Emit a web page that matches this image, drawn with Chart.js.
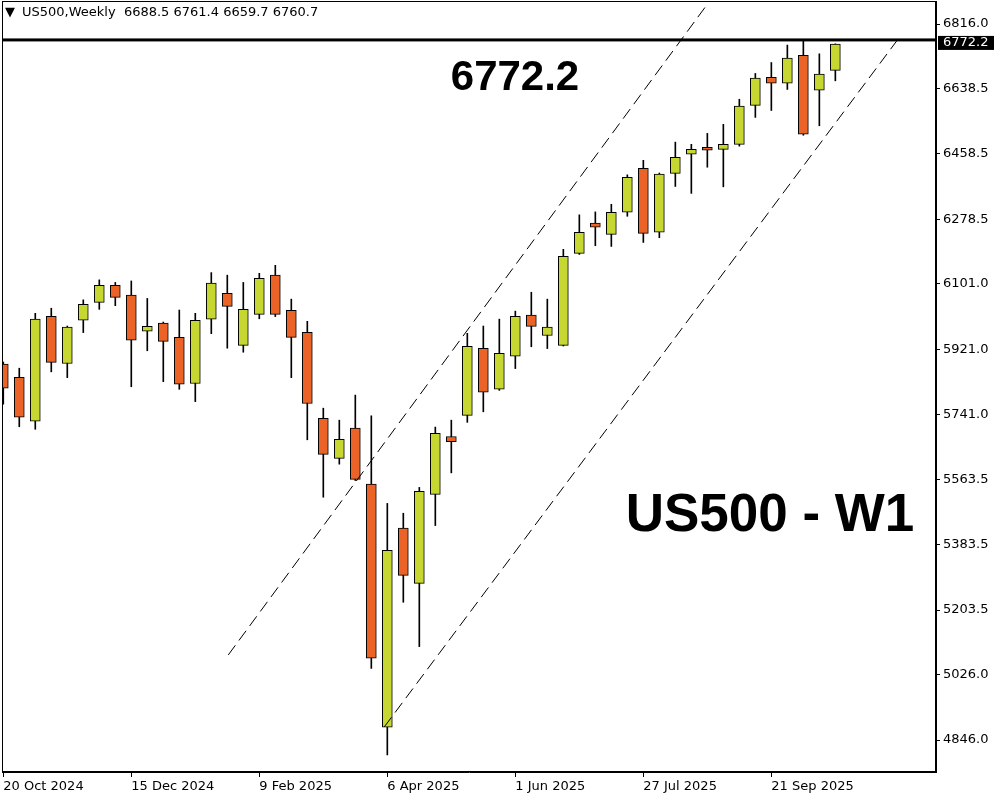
<!DOCTYPE html>
<html>
<head>
<meta charset="utf-8">
<title>US500 - W1</title>
<script src="https://cdn.jsdelivr.net/npm/chart.js@4.4.1/dist/chart.umd.min.js"></script>
<style>
    html, body { margin: 0; padding: 0; background: #fff; }
</style>
</head>
<body>
<canvas id="myChart" width="1000" height="800"></canvas>
<script>
// weekly candles, 20 Oct 2024 .. 19 Oct 2025
const opens = [5880, 5844, 5723, 6012, 5882, 6001, 6050, 6097, 6070, 5971,
    5993, 5954, 5827, 6004, 6075, 5932, 6017, 6125, 6028, 5968,
    5731, 5621, 5704, 5550, 4881, 5429, 5277, 5522, 5681, 5739,
    5924, 5811, 5902, 6015, 5959, 5932, 6185, 6268, 6237, 6298,
    6419, 6243, 6405, 6458, 6477, 6471, 6485, 6592, 6669, 6653,
    6730, 6634, 6688.5];
const highs = [5886, 5869, 6020, 6034, 5985, 6057, 6112, 6105, 6109, 6061,
    5996, 6029, 6020, 6132, 6125, 6105, 6130, 6152, 6059, 5998,
    5759, 5726, 5795, 5738, 5497, 5470, 5541, 5707, 5726, 5965,
    5985, 6004, 6026, 6078, 6059, 6196, 6291, 6299, 6320, 6401,
    6441, 6406, 6491, 6485, 6515, 6540, 6609, 6680, 6710, 6758,
    6770, 6734, 6761.4];
const lows = [5770, 5708, 5701, 5859, 5843, 5967, 6031, 6041, 5818, 5917,
    5832, 5811, 5777, 5964, 5924, 5913, 6005, 6011, 5843, 5672,
    5514, 5605, 5560, 5043, 4805, 5225, 5103, 5436, 5581, 5720,
    5749, 5808, 5868, 5928, 5923, 5930, 6182, 6206, 6204, 6287,
    6215, 6228, 6369, 6350, 6422, 6368, 6480, 6559, 6578, 6636,
    6510, 6536, 6659.7];
const closes = [5814, 5734, 6004, 5885, 5982, 6045, 6097, 6064, 5946, 5984,
    5943, 5825, 6001, 6103, 6039, 6031, 6116, 6017, 5954, 5772,
    5632, 5673, 5563, 5071, 5368, 5299, 5530, 5690, 5667, 5929,
    5803, 5910, 6012, 5984, 5982, 6177, 6243, 6257, 6298, 6394,
    6240, 6403, 6449, 6471, 6469, 6485, 6590, 6667, 6653, 6722,
    6513, 6678, 6760.7];

const tickIndex = [0, 8, 16, 24, 32, 40, 48];
const tickLabels = ["20 Oct 2024", "15 Dec 2024", "9 Feb 2025", "6 Apr 2025",
    "1 Jun 2025", "27 Jul 2025", "21 Sep 2025"];
const priceTicks = [6816.0, 6638.5, 6458.5, 6278.5, 6101.0, 5921.0,
    5741.0, 5563.5, 5383.5, 5203.5, 5026.0, 4846.0];

const lastPrice = 6772.2;
const upperX = [14.06, 44.06],
    upperY = [5080, 6874];
const lowerX = [23.81, 55.88],
    lowerY = [4882, 6772];

const upColor = "rgb(198, 215, 50)";
const downColor = "rgb(235, 99, 38)";
const labelFont = { family: "'DejaVu Sans', sans-serif", size: 13 };

const overlay = {
    id: "overlay",
    afterDatasetsDraw(chart) {
        const { ctx, chartArea: a, scales: { y } } = chart;
        const py = y.getPixelForValue(lastPrice);

        ctx.save();
        ctx.fillStyle = "#000";
        ctx.fillRect(a.left, py - 1.5, a.right - a.left, 3);
        ctx.restore();
    },
    afterDraw(chart) {
        const { ctx, chartArea: a, scales: { y } } = chart;
        const py = y.getPixelForValue(lastPrice);

        ctx.save();
        // frame
        ctx.strokeStyle = "#000";
        ctx.lineWidth = 1;
        ctx.strokeRect(a.left + 0.5, a.top + 0.5, a.right - a.left - 1, a.bottom - a.top - 1);

        // price box on the axis
        ctx.fillStyle = "#000";
        ctx.fillRect(a.right + 2, py - 4, 56, 14);
        ctx.fillStyle = "#fff";
        ctx.font = "13px 'DejaVu Sans'";
        ctx.textBaseline = "middle";
        ctx.textAlign = "left";
        ctx.fillText(lastPrice.toFixed(1), a.right + 7, py + 3);

        // title
        ctx.fillStyle = "#000";
        ctx.fillText("\u25BC", a.left + 3, 13);
        ctx.fillText("US500,Weekly  " + [opens[52], highs[52], lows[52], closes[52]].map(v => v.toFixed(1)).join(" "), a.left + 20, 13);

        // big labels
        ctx.textAlign = "center";
        ctx.font = "bold 42px 'Liberation Sans'";
        ctx.fillText(lastPrice.toFixed(1), 515, 78);
        ctx.font = "bold 53px 'Liberation Sans'";
        ctx.fillText("US500 - W1", 770, 516);
        ctx.restore();
    }
};

const data = {
    datasets: [
        {
            type: "line",
            data: upperX.map((x, i) => ({ x: x, y: upperY[i] })),
            borderColor: "#000",
            borderWidth: 1,
            borderDash: [12, 6],
            pointRadius: 0,
            order: 0
        },
        {
            type: "line",
            data: lowerX.map((x, i) => ({ x: x, y: lowerY[i] })),
            borderColor: "#000",
            borderWidth: 1,
            borderDash: [12, 6],
            pointRadius: 0,
            order: 0
        },
        {
            type: "bar",
            data: opens.map((o, i) => ({ x: i, y: [o, closes[i]] })),
            backgroundColor: c => closes[c.dataIndex] >= opens[c.dataIndex] ? upColor : downColor,
            borderColor: "#000",
            borderWidth: 1,
            borderSkipped: false,
            barThickness: 10,
            grouped: false,
            order: 1
        },
        {
            type: "bar",
            data: lows.map((l, i) => ({ x: i, y: [l, highs[i]] })),
            backgroundColor: "#000",
            borderWidth: 0,
            barThickness: 1,
            grouped: false,
            order: 2
        }
    ]
};

const config = {
    type: "bar",
    data: data,
    plugins: [overlay],
    options: {
        responsive: false,
        devicePixelRatio: 1,
        animation: false,
        layout: { padding: { left: 2, top: 1, right: 0, bottom: 0 } },
        plugins: {
            legend: { display: false },
            tooltip: { enabled: false }
        },
        scales: {
            x: {
                type: "linear",
                offset: false,
                min: -0.08,
                max: 58.29,
                afterBuildTicks: scale => { scale.ticks = tickIndex.map(v => ({ value: v })); },
                afterFit: scale => {
                    scale.height = 28;
                    scale.paddingLeft = 0;
                    scale.paddingRight = 0;
                },
                ticks: {
                    align: "start",
                    padding: 2,
                    maxRotation: 0,
                    autoSkip: false,
                    color: "#000",
                    font: labelFont,
                    callback: (value, index) => tickLabels[index]
                },
                grid: { offset: false, drawOnChartArea: false, tickLength: 5, color: "#000" },
                border: { color: "#000" }
            },
            y: {
                position: "right",
                min: 4758,
                max: 6879.3,
                afterBuildTicks: scale => { scale.ticks = priceTicks.map(v => ({ value: v })); },
                afterFit: scale => {
                    scale.width = 64;
                    scale.paddingTop = 0;
                    scale.paddingBottom = 0;
                },
                ticks: {
                    padding: 3,
                    color: "#000",
                    font: labelFont,
                    callback: value => value.toFixed(1)
                },
                grid: { drawOnChartArea: false, tickLength: 4, color: "#000" },
                border: { color: "#000" }
            }
        }
    }
};

var myChart = new Chart(document.getElementById("myChart"), config);
</script>
</body>
</html>
